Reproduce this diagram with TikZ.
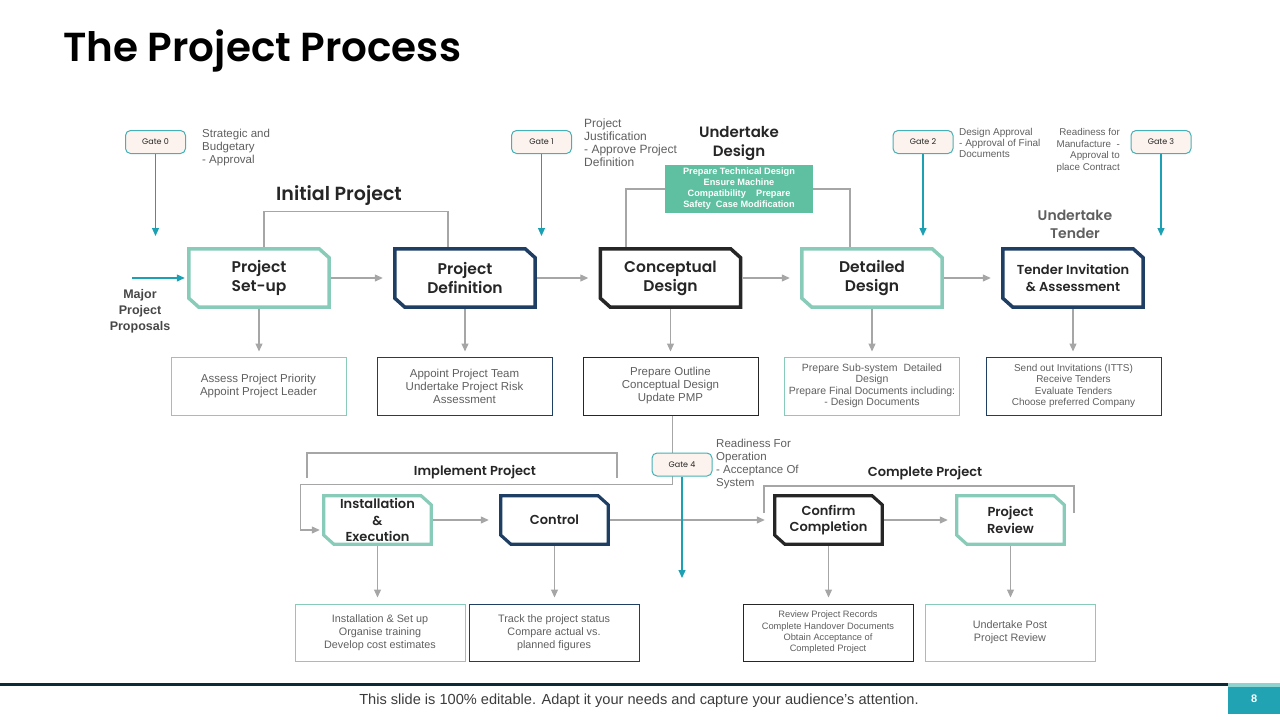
\documentclass[tikz,border=0pt]{standalone}
\usepackage{fontspec}
\setmainfont{Liberation Sans}
\newfontfamily\gothic{Poppins}[BoldFont={Poppins SemiBold}]
\usetikzlibrary{calc,arrows.meta}
\definecolor{lteal}{HTML}{88CBB8}
\definecolor{navy}{HTML}{1F3E64}
\definecolor{darkb}{HTML}{262626}
\definecolor{gline}{HTML}{A6A6A6}
\definecolor{tealarr}{HTML}{1BA1B3}
\definecolor{gateb}{HTML}{45B0B5}
\definecolor{gatef}{HTML}{FCF3EE}
\definecolor{greenbox}{HTML}{5EC0A0}
\definecolor{footdark}{HTML}{0D2B36}
\definecolor{tealbox}{HTML}{21A3B3}
\definecolor{tealtop}{HTML}{8FD3D0}
\definecolor{txtgray}{HTML}{5F5F5F}
\definecolor{txtdark}{HTML}{262626}
\newcommand{\chamf}[3]{%
  \draw[line width=#3, #2, line join=miter]
    (#1.north west) -- ($(#1.north east)+(-10,0)$) -- ($(#1.north east)+(0,9)$)
    -- (#1.south east) -- ($(#1.south west)+(10,0)$) -- ($(#1.south west)+(0,-9)$) -- cycle;}
\tikzset{
  gate/.style={draw=gateb, fill=gatef, rounded corners=5pt, line width=1pt,
    minimum width=60, minimum height=23, inner sep=0pt,
    font=\gothic\fontsize{8}{9}\selectfont, text=txtdark},
  gatetxt/.style={align=left, inner sep=0pt, text=txtgray,
    font=\fontsize{11.5}{13}\selectfont},
  tealarrow/.style={draw=tealarr, line width=1.2pt, -{Triangle[length=8pt,width=7pt]}},
  grayarrow/.style={draw=gline, line width=1.2pt, -{Triangle[length=8pt,width=7pt]}},
  bline/.style={draw=gline, line width=1.1pt},
  proc/.style={minimum width=140, minimum height=58, inner sep=0pt, align=center,
    font=\gothic\bfseries\fontsize{15.5}{19}\selectfont, text=txtdark},
  procb/.style={minimum width=107, minimum height=48, inner sep=0pt, align=center,
    font=\gothic\bfseries\fontsize{13}{16.5}\selectfont, text=txtdark},
  infobox/.style={draw, line width=1pt, minimum width=175, minimum height=58,
    inner sep=0pt, align=center, text=txtgray, font=\fontsize{11.5}{13}\selectfont},
  infoboxb/.style={infobox, minimum width=170, minimum height=57, font=\fontsize{10.8}{13}\selectfont},
  grouplbl/.style={inner sep=0pt, align=center, text=txtdark,
    font=\gothic\bfseries\fontsize{13}{16}\selectfont},
}
\begin{document}
\begin{tikzpicture}[x=1pt,y=-1pt]
\useasboundingbox (0,0) rectangle (1280,720);
% title
\node[anchor=base west, inner sep=0pt, font=\gothic\bfseries\fontsize{40.5}{44}\selectfont] (title) at (63,61) {The Project Process};

% main row nodes
\node[proc] (setup) at (259,278) {Project\\Set-up};
\node[proc] (def) at (465,278) {Project\\Definition};
\node[proc] (concept) at (670.5,278) {Conceptual\\Design};
\node[proc] (detail) at (872,278) {Detailed\\Design};
\node[proc, font=\gothic\bfseries\fontsize{13}{17}\selectfont] (tender) at (1073,278) {Tender Invitation\\\& Assessment};

% info boxes row 1
\node[infobox, draw=lteal] (b1) at (258.5,386) {Assess Project Priority\\Appoint Project Leader};
\node[infobox, draw=navy] (b2) at (464.5,386) {Appoint Project Team\\Undertake Project Risk\\Assessment};
\node[infobox, draw=darkb] (b3) at (670.5,386) {Prepare Outline\\Conceptual Design\\Update PMP};
\node[infobox, draw=lteal, font=\fontsize{10.5}{11.5}\selectfont] (b4) at (872,386) {Prepare Sub-system\ \ Detailed\\Design\\Prepare Final Documents including:\\- Design Documents};
\node[infobox, draw=navy, font=\fontsize{10}{11.6}\selectfont] (b5) at (1073.5,386) {Send out Invitations (ITTS)\\Receive Tenders\\Evaluate Tenders\\Choose preferred Company};

% connectors row 1
\draw[grayarrow, shorten >=12pt, shorten <=2pt] (setup) -- (def);
\draw[grayarrow, shorten >=12pt, shorten <=2pt] (def) -- (concept);
\draw[grayarrow, shorten >=12pt, shorten <=2pt] (concept) -- (detail);
\draw[grayarrow, shorten >=12pt, shorten <=2pt] (detail) -- (tender);
\foreach \n/\b in {setup/b1, def/b2, concept/b3, detail/b4, tender/b5}
  \draw[grayarrow, shorten >=5pt] (\n.south) -- (\n.south |- \b.north);

% major project proposals
\coordinate (mpp) at (132,278);
\draw[tealarrow, shorten >=4pt] (mpp) -- (setup.west);
\node[align=center, inner sep=0pt, text=txtdark!85, font=\bfseries\fontsize{12.5}{16}\selectfont] (mppt) at (140,311) {Major\\Project\\Proposals};

% initial project bracket
\node[inner sep=0pt, text=txtdark, font=\gothic\bfseries\fontsize{19}{22}\selectfont] (ip) at (339,196) {Initial Project};
\draw[bline] ([xshift=5pt]setup.north) -- ++(0,-37) -| ([xshift=-17pt]def.north);

% undertake design
\node[inner sep=0pt, align=center, text=txtdark, font=\gothic\bfseries\fontsize{15}{19}\selectfont] (udl) at (739,143.5) {Undertake\\Design};
\node[fill=greenbox, minimum width=148, minimum height=48, inner sep=0pt, align=center, text=white, font=\bfseries\fontsize{9.2}{11}\selectfont] (ud) at (739,189) {Prepare Technical Design\\Ensure Machine\\Compatibility\ \ \ \ Prepare\\Safety\ \ Case Modification};
\draw[bline] ([xshift=-44.5pt]concept.north) |- (ud.west);
\draw[bline] (ud.east) -| ([xshift=-22pt]detail.north);

% undertake tender
\node[inner sep=0pt, align=center, text=txtgray, font=\gothic\bfseries\fontsize{14}{18}\selectfont] (utl) at (1075,224) {Undertake\\Tender};

% second row nodes
\node[procb] (inst) at (377.5,520) {Installation\\\&\\Execution};
\node[procb] (ctrl) at (554.5,520) {Control};
\node[procb] (conf) at (828.5,520) {Confirm\\Completion};
\node[procb] (rev) at (1010.5,520) {Project\\Review};

% bottom boxes
\node[infoboxb, draw=lteal] (c1) at (380,632.5) {Installation \& Set up\\Organise training\\Develop cost estimates};
\node[infoboxb, draw=navy] (c2) at (554,632.5) {Track the project status\\Compare actual vs.\\planned figures};
\node[infoboxb, draw=darkb, font=\fontsize{9.3}{11.3}\selectfont] (c3) at (828,632.5) {Review Project Records\\Complete Handover Documents\\Obtain Acceptance of\\Completed Project};
\node[infoboxb, draw=lteal] (c4) at (1010,632.5) {Undertake Post\\Project Review};

% link from conceptual design box to installation
\draw[grayarrow, shorten >=4pt] ([xshift=2pt]b3.south) -- ++(0,69) -- ++(-372,0) |- ($(inst.west)+(0,10)$);

% implement project bracket
\coordinate (ipl) at (307,478);
\coordinate (ipr) at (617,478);
\draw[bline] (ipl) -- ++(0,-25) -| (ipr);
\node[grouplbl] (ipt) at (475,472) {Implement Project};

% complete project bracket
\coordinate (cpl) at (764,513);
\coordinate (cpr) at (1074,513);
\draw[bline] (cpl) -- ++(0,-27) -| (cpr);
\node[grouplbl] (cpt) at (925,473) {Complete Project};

% row 2 connectors
\draw[grayarrow, shorten >=12pt, shorten <=2pt] (inst) -- (ctrl);
\draw[grayarrow, shorten >=10pt, shorten <=2pt] (ctrl) -- (conf);
\draw[grayarrow, shorten >=9pt, shorten <=2pt] (conf) -- (rev);
\foreach \n/\b in {inst/c1, ctrl/c2, conf/c3, rev/c4}
  \draw[grayarrow, shorten >=6pt] (\n.south) -- (\n.south |- \b.north);

% chamfered borders
\chamf{setup}{lteal}{3.5pt}
\chamf{def}{navy}{3.5pt}
\chamf{concept}{darkb}{3.5pt}
\chamf{detail}{lteal}{3.5pt}
\chamf{tender}{navy}{3.5pt}
\chamf{inst}{lteal}{3.2pt}
\chamf{ctrl}{navy}{3.2pt}
\chamf{conf}{darkb}{3.2pt}
\chamf{rev}{lteal}{3.2pt}

% gates
\node[gate] (g0) at (155.5,142) {Gate 0};
\node[gate] (g1) at (541.5,142) {Gate 1};
\node[gate] (g2) at (923,142) {Gate 2};
\node[gate] (g3) at (1161,142) {Gate 3};
\node[gate] (g4) at (682,464.5) {Gate 4};
\coordinate (g0e) at (155.5,236);
\coordinate (g1e) at (541.5,236);
\coordinate (g2e) at (923,236);
\coordinate (g3e) at (1161,236);
\coordinate (g4e) at (682,578);
\foreach \g in {g0,g1,g2,g3,g4}
  \draw[tealarrow] (\g) -- (\g e);

% gate texts
\node[gatetxt, anchor=north west] (t0) at (202,129) {Strategic and\\Budgetary\\- Approval};
\node[gatetxt, anchor=north west, font=\fontsize{12}{13}\selectfont] (t1) at (584,119) {Project\\Justification\\- Approve Project\\Definition};
\node[gatetxt, anchor=north west, font=\fontsize{10}{11.2}\selectfont] (t2) at (959,128) {Design Approval\\- Approval of Final\\Documents};
\node[gatetxt, anchor=north east, align=right, font=\fontsize{9.8}{11.7}\selectfont] (t3) at (1120,128) {Readiness for\\Manufacture\ \ -\\Approval to\\place Contract};
\node[gatetxt, anchor=north west] (t4) at (716,439) {Readiness For\\Operation\\- Acceptance Of\\System};

% footer
\fill[footdark] (0,683) rectangle (1228,686);
\node[fill=tealbox, minimum width=52, minimum height=31, inner sep=0pt, anchor=north west, text=white, font=\bfseries\fontsize{11}{12}\selectfont] (pg) at (1228,683) {8};
\fill[tealtop] (pg.north west) rectangle ($(pg.north east)+(0,4)$);
\node[inner sep=0pt, text=txtdark!90, font=\fontsize{14.6}{16}\selectfont] (foot) at (639,701) {This slide is 100\% editable. Adapt it your needs and capture your audience’s attention.};
\end{tikzpicture}
\end{document}
